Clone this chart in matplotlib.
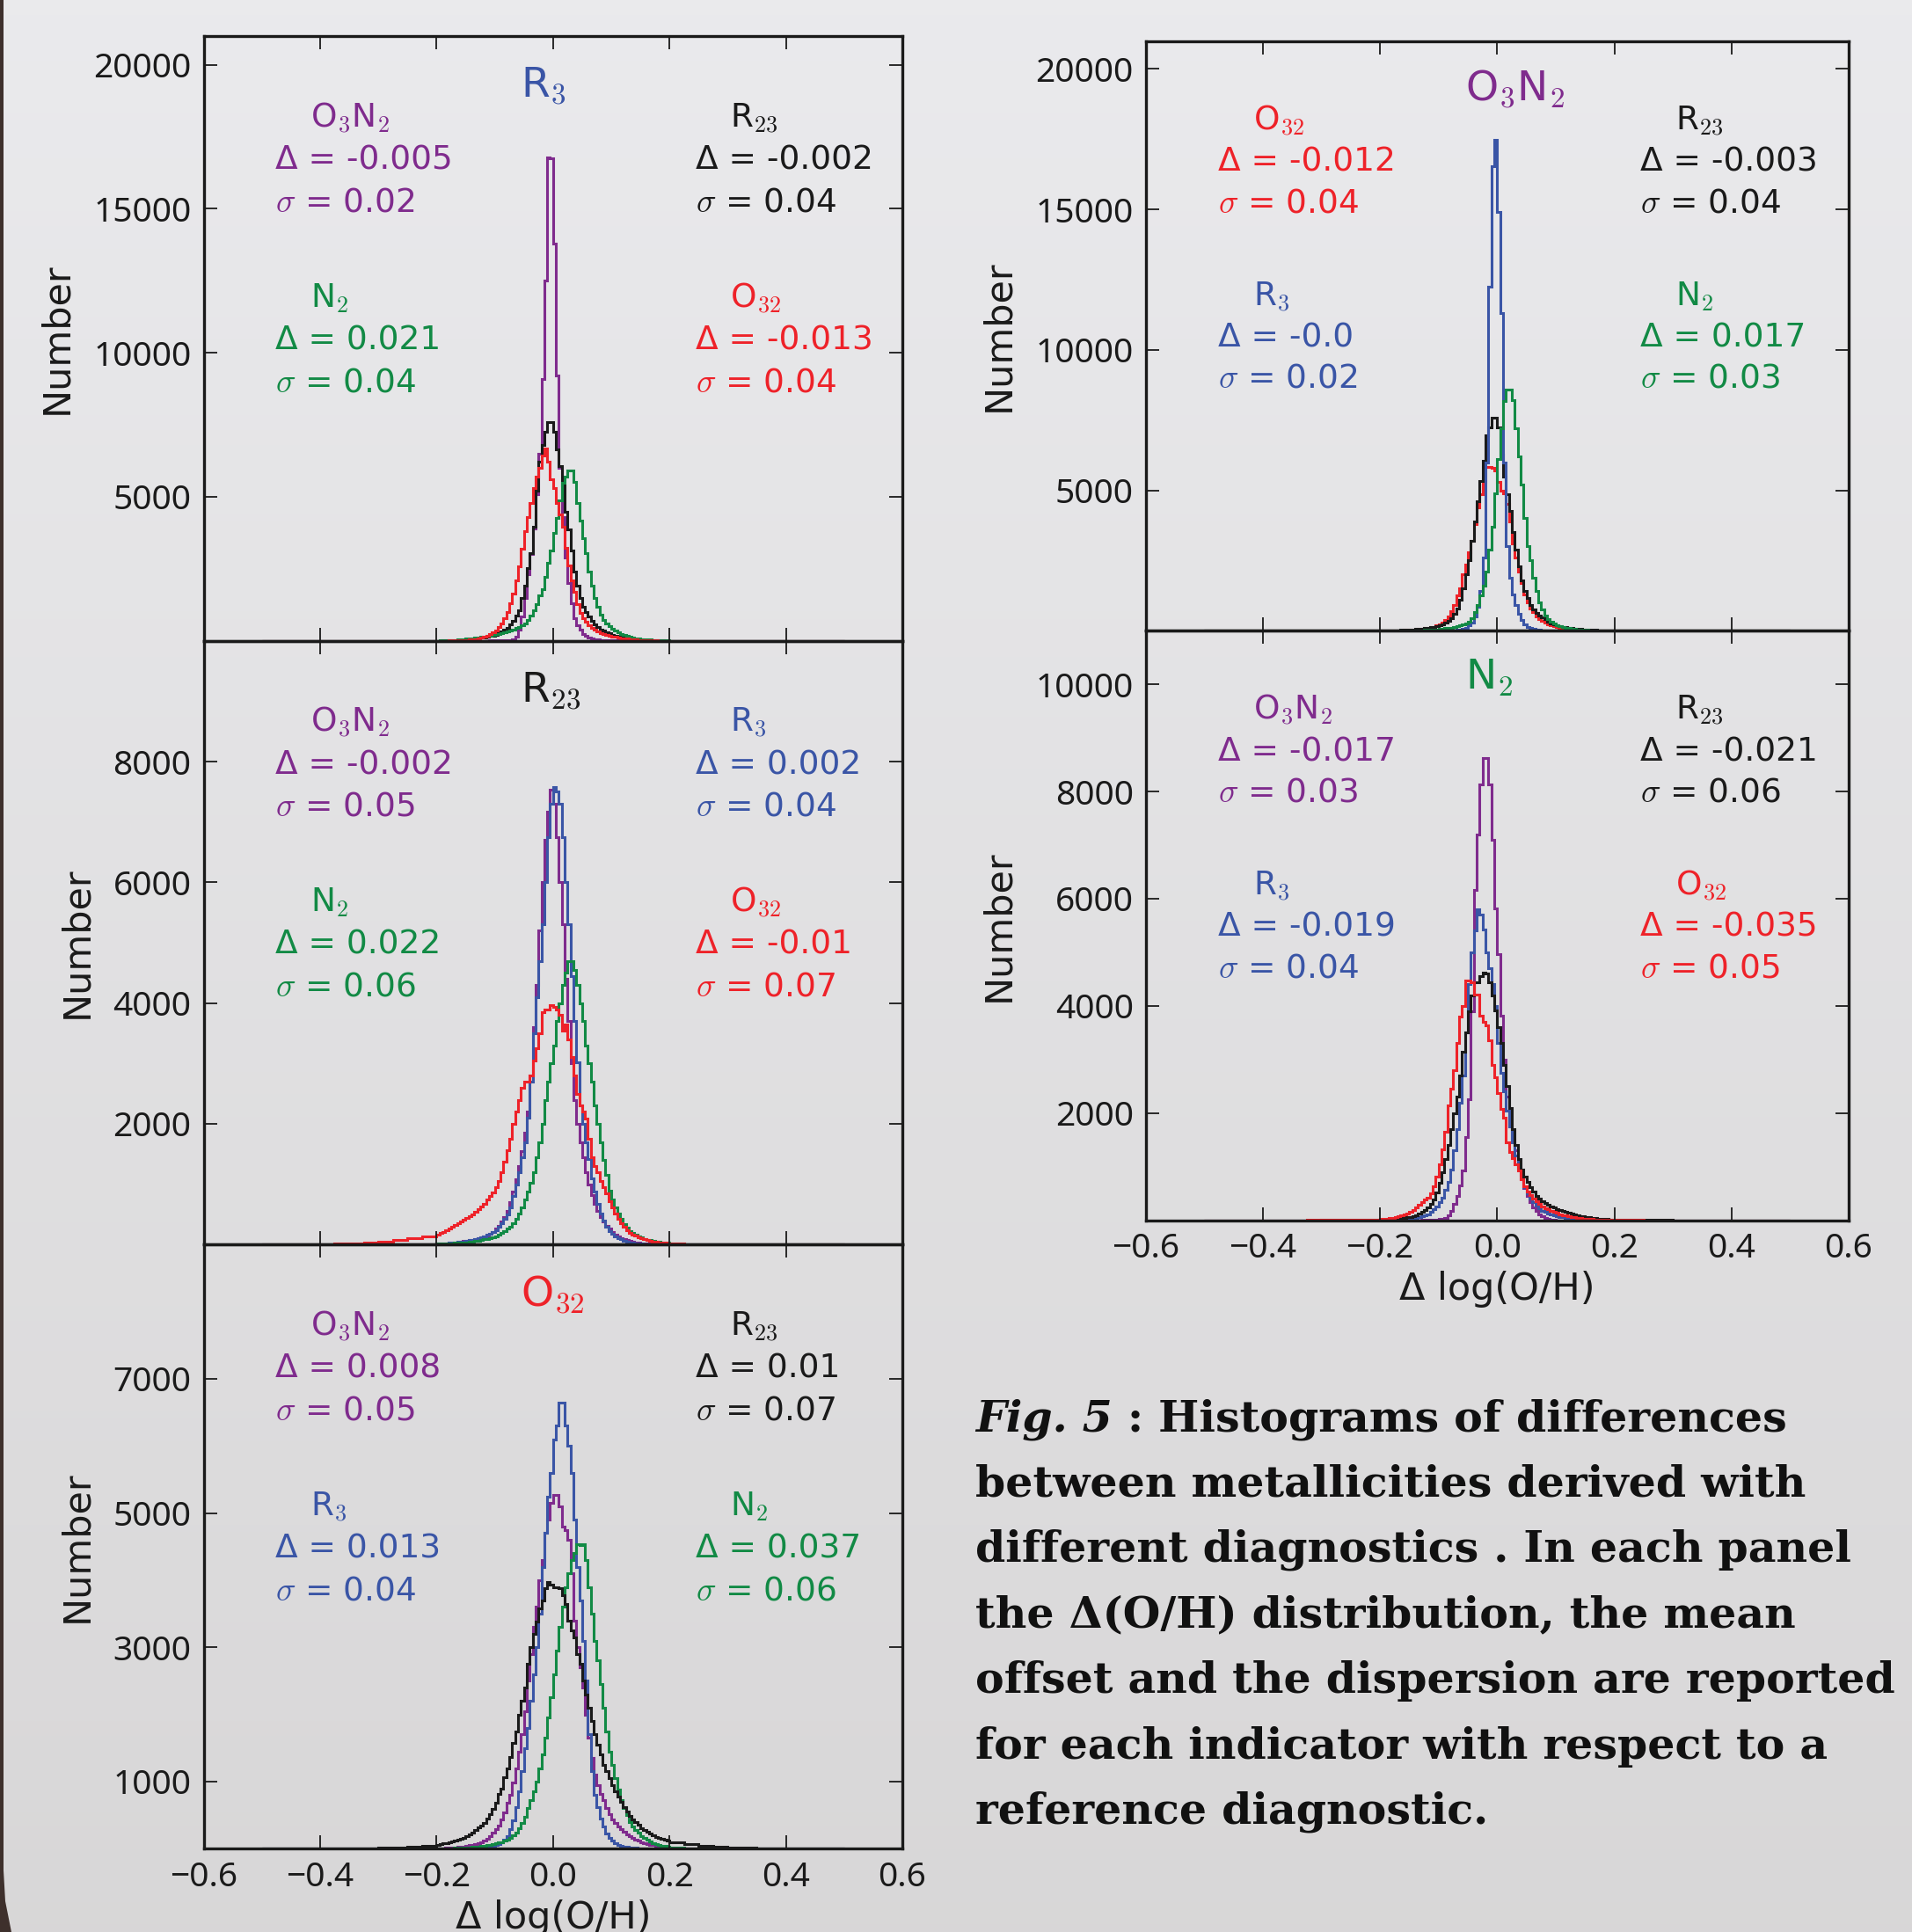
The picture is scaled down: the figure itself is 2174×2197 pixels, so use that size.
import numpy as np
import matplotlib
matplotlib.use("Agg")
import matplotlib.pyplot as plt
from matplotlib.patches import Polygon

plt.rcParams['mathtext.fontset'] = 'cm'
plt.rcParams['font.family'] = ['DejaVu Sans']

# ---------------------------------------------------------------- data
# histogram bin edges in Δ log(O/H): coarse outer bins, fine central bins
edges = np.concatenate([np.linspace(-0.5, -0.225, 12),
                        np.linspace(-0.2, 0.195, 80),
                        np.linspace(0.2, 0.5, 13)])
xticks = [-0.6, -0.4, -0.2, 0.0, 0.2, 0.4, 0.6]

# ---- panel: reference R3
r3_o3n2 = [0,0,0,0,0,0,0,0,0,0,0,0,
    0,0,0,0,0,0,0,1,1,1,
    2,2,3,3,4,5,5,6,8,10,
    10,12,15,20,25,35,60,150,380,850,
    1500,2300,3000,3900,5100,6500,9100,12500,16800,16750,
    13800,9200,6000,4300,2900,2000,1300,800,550,380,
    250,170,110,75,50,38,28,20,15,12,
    10,8,6,5,4,3,3,2,2,2,
    1,1,1,1,1,0,0,0,0,0,
    0,0,0,0,0,0,0,0,0,0,0,0]
r3_r23 = [0,0,0,0,0,0,0,0,0,1,2,3,
    5,6,8,10,12,15,19,24,29,34,
    40,50,60,70,85,100,120,140,160,185,
    210,260,320,380,450,560,700,865,1070,1485,
    1900,2520,3030,3960,5200,6230,6800,7270,7600,7600,
    7270,6650,6080,5400,4480,3860,3140,2410,1900,1490,
    1180,1000,860,700,560,480,400,350,300,260,
    200,170,150,130,110,95,80,65,55,45,
    38,32,26,20,16,12,10,8,6,5,
    3,2,1,0,0,0,0,0,0,0,0,0]
r3_n2 = [0,0,0,0,0,0,0,0,1,2,3,4,
    5,7,10,14,18,24,30,40,50,62,
    75,85,95,105,118,130,145,160,180,200,
    230,250,280,300,340,370,400,450,480,550,
    600,710,870,1070,1280,1590,1790,2210,2720,3140,
    3760,4270,4890,5500,5700,5920,5920,5510,4790,4170,
    3550,3030,2410,1900,1490,1180,920,720,600,500,
    420,350,300,250,200,170,140,115,95,80,
    65,55,45,38,30,25,20,16,13,10,
    6,3,1,0,0,0,0,0,0,0,0,0]
r3_o32 = [0,0,0,0,0,0,0,0,0,1,2,3,
    3,4,5,6,8,10,13,16,20,24,
    30,40,52,66,85,110,140,180,230,290,
    370,470,600,780,1000,1300,1650,2100,2600,3200,
    3800,4300,4800,5300,5700,6000,6440,6670,6230,5600,
    5300,4790,4400,3960,3240,2620,2100,1690,1280,970,
    800,660,540,450,380,320,270,230,195,170,
    150,130,110,95,80,68,56,46,38,30,
    25,20,16,13,10,8,6,5,4,3,
    2,1,0,0,0,0,0,0,0,0,0,0]

# ---- panel: reference R23
r23_o3n2 = [0,0,0,0,0,0,0,0,1,2,3,5,
    15,18,22,26,30,35,40,46,52,58,
    65,72,80,90,100,115,130,150,180,215,
    260,310,380,460,560,700,880,1080,1300,1550,
    1850,2200,2800,3600,4300,5200,6000,6700,7170,7540,
    7300,6750,6000,5300,4400,3700,3000,2400,2000,1700,
    1450,1200,1000,820,680,560,460,380,310,260,
    210,170,140,110,90,72,58,46,37,30,
    24,19,15,12,9,7,6,5,4,3,
    2,1,0,0,0,0,0,0,0,0,0,0]
r23_r3 = [0,0,0,0,0,0,0,0,1,2,3,5,
    15,18,22,26,30,35,40,45,50,55,
    60,70,80,95,110,125,140,160,180,205,
    240,290,350,420,500,620,800,1000,1200,1450,
    1700,2100,2700,3500,4100,4700,5300,6000,6750,7300,
    7580,7500,7300,6750,6000,5300,4440,3700,3020,2300,
    2000,1700,1420,1100,880,680,510,400,290,230,
    180,140,110,85,65,50,40,30,24,18,
    14,11,9,7,5,4,3,2,2,1,
    1,0,0,0,0,0,0,0,0,0,0,0]
r23_n2 = [0,0,0,0,0,0,0,0,1,2,4,8,
    12,14,17,20,23,26,29,32,35,38,
    40,45,52,60,68,76,85,95,108,122,
    140,160,190,225,260,300,350,430,520,620,
    740,880,1020,1200,1450,1700,2000,2400,2700,3000,
    3300,3700,4000,4300,4500,4700,4700,4550,4300,4000,
    3700,3300,3000,2700,2300,2000,1700,1400,1150,900,
    750,620,510,420,340,280,230,190,160,135,
    115,98,84,72,62,53,46,40,35,30,
    20,10,5,2,1,0,0,0,0,0,0,0]
r23_o32 = [0,1,3,5,8,12,20,30,45,70,100,140,
    170,190,210,235,260,290,320,350,380,410,
    440,470,500,540,580,630,680,740,800,870,
    950,1050,1200,1380,1560,1750,2000,2200,2400,2600,
    2700,2700,2800,3050,3250,3500,3850,3900,3900,3960,
    3930,3900,3800,3550,3650,3400,3100,2800,2500,2300,
    2200,2080,1750,1450,1300,1200,1050,950,850,720,
    620,520,420,350,290,240,200,170,145,125,
    105,90,75,64,55,47,40,34,29,25,
    15,8,4,2,1,0,0,0,0,0,0,0]

# ---- panel: reference O32
o32_o3n2 = [0,0,0,0,0,0,0,0,0,1,2,3,
    5,6,8,10,12,15,19,24,28,34,
    40,50,60,72,85,100,120,150,190,240,
    290,340,430,540,680,800,980,1200,1450,1700,
    2050,2500,2900,3300,3600,4000,4300,4700,4900,5150,
    5264,5264,5100,4800,4750,4600,4100,3400,3000,2700,
    2400,2000,1650,1350,1100,950,820,720,600,510,
    440,380,330,290,250,215,185,160,140,120,
    100,85,72,60,50,42,35,29,24,20,
    12,6,3,1,0,0,0,0,0,0,0,0]
o32_r3 = [0,0,0,0,0,0,0,0,0,0,0,0,
    0,0,1,1,1,2,2,3,3,4,
    5,6,8,10,12,15,20,25,32,40,
    50,70,95,130,190,290,420,620,850,1150,
    1500,1800,2200,2600,3000,3500,4200,4700,5250,5600,
    6100,6300,6650,6650,6300,6000,5600,4900,4200,3700,
    3100,2500,1700,1150,800,620,450,330,220,160,
    120,85,60,45,32,24,18,13,10,8,
    6,5,4,3,2,2,1,1,1,0,
    0,0,0,0,0,0,0,0,0,0,0,0]
o32_n2 = [0,0,0,0,0,0,0,0,0,1,2,3,
    4,5,6,7,8,9,10,12,14,16,
    18,21,25,29,34,39,45,52,59,67,
    76,88,100,120,140,165,200,240,300,380,
    480,600,720,850,1000,1200,1400,1650,1950,2250,
    2600,2950,3300,3600,3900,4100,4300,4400,4540,4520,
    4540,4300,3900,3500,3100,2800,2450,2100,1750,1450,
    1250,1050,880,720,600,500,400,330,280,240,
    190,160,130,105,85,70,58,48,40,32,
    18,8,4,2,1,0,0,0,0,0,0,0]
o32_r23 = [0,0,0,1,2,3,5,8,12,18,28,40,
    60,68,76,85,95,105,116,130,145,162,
    180,210,245,280,312,345,378,443,509,596,
    680,810,900,1070,1200,1370,1580,1750,2000,2200,
    2400,2750,3000,3200,3380,3580,3700,3880,3970,3930,
    3900,3890,3880,3780,3650,3400,3250,3150,2900,2750,
    2500,2300,2100,1900,1700,1550,1400,1250,1150,1050,
    950,860,780,700,620,550,490,440,390,350,
    310,280,250,220,195,175,160,145,130,115,
    90,65,45,30,20,12,8,5,3,2,1,0]

# ---- panel: reference O3N2
o3n2_o32 = [0,0,0,0,0,0,0,0,0,1,2,3,
    5,6,8,10,12,14,17,21,25,30,
    35,42,50,60,72,85,100,120,145,180,
    220,280,380,500,680,910,1270,1500,2000,2350,
    2800,3200,3800,4400,4850,5300,5820,5820,5800,5700,
    5300,5000,4900,4500,3900,3100,2600,2100,1700,1300,
    1000,800,650,520,420,340,280,230,190,160,
    135,115,95,80,68,56,46,38,31,25,
    20,16,13,10,8,6,5,4,3,2,
    1,0,0,0,0,0,0,0,0,0,0,0]
o3n2_r23 = [0,0,0,0,0,0,0,0,0,1,2,3,
    6,8,10,12,14,17,20,24,28,34,
    40,48,56,65,76,88,100,120,145,170,
    180,220,280,350,450,600,800,1100,1500,2000,
    2500,3200,3900,4600,5320,6040,6950,7230,7590,7590,
    7230,6280,5500,4850,4250,3500,2900,2300,1800,1400,
    1150,920,760,640,550,470,400,320,270,230,
    200,170,145,125,105,90,76,64,54,45,
    38,32,27,22,18,15,12,10,8,6,
    4,2,1,0,0,0,0,0,0,0,0,0]
o3n2_r3 = [0,0,0,0,0,0,0,0,0,0,0,0,
    0,0,0,0,0,0,0,0,0,0,
    0,0,1,1,1,2,2,3,3,4,
    5,6,8,10,15,20,30,45,70,110,
    180,300,500,850,1400,2600,6000,12240,16540,17490,
    14900,11300,6000,3000,1900,1300,900,600,380,220,
    130,90,60,45,30,20,15,10,8,6,
    5,4,3,2,2,1,1,1,0,0,
    0,0,0,0,0,0,0,0,0,0,
    0,0,0,0,0,0,0,0,0,0,0,0]
o3n2_n2 = [0,0,0,0,0,0,0,0,0,0,0,0,
    2,2,3,3,4,4,5,6,7,8,
    10,12,14,17,20,24,29,35,42,50,
    60,72,85,100,115,135,155,180,210,250,
    330,450,650,900,1250,1600,2100,2900,3700,4900,
    6100,7200,8190,8600,8600,8200,7200,6200,5200,4000,
    3000,2500,1900,1400,1000,750,550,420,320,250,
    200,160,130,105,85,70,57,46,37,30,
    24,19,15,12,9,7,5,4,3,2,
    1,0,0,0,0,0,0,0,0,0,0,0]

# ---- panel: reference N2
n2_o3n2 = [0,0,0,0,0,0,0,0,0,0,0,0,
    0,0,0,0,0,0,0,0,0,0,
    0,0,1,1,2,3,4,6,9,14,
    20,30,50,95,180,300,450,650,930,1560,
    2250,3900,6170,7200,8130,8620,8620,8130,7090,5820,
    4960,3810,3000,2300,1800,1500,1300,1050,850,600,
    450,330,240,170,110,70,40,20,10,5,
    0,0,0,0,0,0,0,0,0,0,
    0,0,0,0,0,0,0,0,0,0,
    0,0,0,0,0,0,0,0,0,0,0,0]
n2_r23 = [0,0,0,0,0,0,0,1,2,3,5,8,
    10,12,15,18,22,27,33,40,48,56,
    65,80,100,125,155,190,240,300,380,520,
    700,900,1150,1400,1700,2000,2300,2700,3150,3500,
    3900,4200,4440,4440,4550,4620,4600,4440,4200,3920,
    3600,3300,2900,2500,2100,1700,1400,1150,950,820,
    720,620,530,460,410,360,325,290,260,235,
    210,190,170,150,135,120,105,92,80,70,
    60,52,45,39,34,29,25,21,18,15,
    10,6,3,2,1,0,0,0,0,0,0,0]
n2_r3 = [0,0,0,0,0,0,0,0,0,0,0,0,
    2,3,4,5,6,8,10,13,16,20,
    25,32,42,55,70,90,115,150,200,260,
    330,420,560,720,950,1300,1700,2200,2700,3500,
    4400,5000,5400,5800,5710,5420,5000,4700,4400,4000,
    3300,2750,2400,2050,1750,1450,1200,980,780,620,
    500,400,330,270,220,180,150,125,105,88,
    74,62,52,43,36,30,25,21,17,14,
    11,9,7,6,5,4,3,2,2,1,
    0,0,0,0,0,0,0,0,0,0,0,0]
n2_o32 = [0,0,0,0,0,0,1,2,3,5,8,14,
    20,25,32,40,50,62,75,90,108,128,
    150,190,240,290,330,380,420,500,640,810,
    1040,1330,1650,2150,2450,2800,3300,3800,4000,4470,
    4470,4440,4210,4210,3810,3700,3640,3350,2890,2660,
    2370,2080,1910,1450,1280,1160,1040,930,760,640,
    530,470,410,350,300,260,230,210,180,160,
    135,115,100,85,72,62,54,46,40,34,
    29,25,21,18,15,13,11,9,7,6,
    4,2,1,0,0,0,0,0,0,0,0,0]

# text of the panels: (indicator, mean offset, dispersion, corner)
notes_r3 = [('O$_3$N$_2$', '-0.005', '0.02', 'TL'), ('R$_{23}$', '-0.002', '0.04', 'TR'),
            ('N$_2$', '0.021', '0.04', 'BL'), ('O$_{32}$', '-0.013', '0.04', 'BR')]
notes_r23 = [('O$_3$N$_2$', '-0.002', '0.05', 'TL'), ('R$_3$', '0.002', '0.04', 'TR'),
             ('N$_2$', '0.022', '0.06', 'BL'), ('O$_{32}$', '-0.01', '0.07', 'BR')]
notes_o32 = [('O$_3$N$_2$', '0.008', '0.05', 'TL'), ('R$_{23}$', '0.01', '0.07', 'TR'),
             ('R$_3$', '0.013', '0.04', 'BL'), ('N$_2$', '0.037', '0.06', 'BR')]
notes_o3n2 = [('O$_{32}$', '-0.012', '0.04', 'TL'), ('R$_{23}$', '-0.003', '0.04', 'TR'),
              ('R$_3$', '-0.0', '0.02', 'BL'), ('N$_2$', '0.017', '0.03', 'BR')]
notes_n2 = [('O$_3$N$_2$', '-0.017', '0.03', 'TL'), ('R$_{23}$', '-0.021', '0.06', 'TR'),
            ('R$_3$', '-0.019', '0.04', 'BL'), ('O$_{32}$', '-0.035', '0.05', 'BR')]

caption_lines = ["between metallicities derived with",
                 "different diagnostics . In each panel",
                 "the \u0394(O/H) distribution, the mean",
                 "offset and the dispersion are reported",
                 "for each indicator with respect to a",
                 "reference diagnostic."]

# ---------------------------------------------------------------- style
PURPLE = '#7f2b8d'
BLUE = '#3a55a6'
GREEN = '#128a45'
RED = '#ee2229'
BLACK = '#1a1a1a'
COL = {'O$_3$N$_2$': PURPLE, 'R$_3$': BLUE, 'R$_{23}$': BLACK,
       'N$_2$': GREEN, 'O$_{32}$': RED}

W, H = 2174, 2197
fig = plt.figure(figsize=(W / 100, H / 100), dpi=100)
fig.patch.set_facecolor('#dfdedf')

# background: soft vertical gradient
bg = fig.add_axes([0, 0, 1, 1], zorder=-10)
grad = np.linspace(0, 1, 256)[:, None]
top = np.array([0.918, 0.918, 0.928])
bot = np.array([0.848, 0.843, 0.846])
img = top[None, None, :] * (1 - grad[..., None]) + bot[None, None, :] * grad[..., None]
bg.imshow(np.repeat(img, 4, axis=1), aspect='auto', extent=[0, 1, 0, 1])
bg.set_xlim(0, 1); bg.set_ylim(0, 1)
bg.axis('off')
# dark frame edge on the left with rounded lower corner
bg.add_patch(Polygon([[0, 0], [0, 1], [4 / W, 1], [4 / W, 70 / H],
                      [6 / W, 35 / H], [13 / W, 0]], closed=True,
                     facecolor='#3e302c', edgecolor='none'))

CORNERS = {'TL': (0.153, 0.103, 0.849), 'TR': (0.753, 0.704, 0.849),
           'BL': (0.153, 0.103, 0.551), 'BR': (0.753, 0.704, 0.551)}
NOTE_FS = 27
LINE_STEP = 0.0695


def make_panel(rect, series, ylim, yticks, title, tcolor, notes, show_x):
    ax = fig.add_axes(rect)
    ax.set_facecolor('none')
    for vals, col in series:
        ax.stairs(vals, edges, color=col, linewidth=2.2)
    ax.set_xlim(-0.6, 0.6)
    ax.set_ylim(0, ylim)
    ax.set_xticks(xticks)
    ax.set_yticks(yticks)
    ax.tick_params(direction='in', top=True, right=True, length=11, width=1.3,
                   labelsize=28, pad=10, labelfontfamily='Noto Sans',
                   colors='#1a1a1a')
    ax.tick_params(axis='x', labelbottom=show_x)
    for sp in ax.spines.values():
        sp.set_linewidth(2.4)
        sp.set_color('#1a1a1a')
    ax.set_ylabel('Number', fontsize=31, labelpad=15, color='#1a1a1a')
    if show_x:
        ax.set_xlabel('\u0394 log(O/H)', fontsize=31, labelpad=4, color='#1a1a1a')
    ax.text(-0.055, 0.90, title, transform=ax.get_xaxis_transform(),
            color=tcolor, fontsize=34, ha='left', va='baseline')
    for name, d, s, corner in notes:
        xl, xv, yb = CORNERS[corner]
        c = COL[name]
        ax.text(xl, yb, name, transform=ax.transAxes, color=c,
                fontsize=NOTE_FS, va='baseline')
        ax.text(xv, yb - LINE_STEP, '\u0394 = ' + d, transform=ax.transAxes,
                color=c, fontsize=NOTE_FS, va='baseline')
        ax.text(xv, yb - 2 * LINE_STEP, r'$\sigma$ = ' + s, transform=ax.transAxes,
                color=c, fontsize=NOTE_FS, va='baseline')
    return ax


LX, LW = 231.5 / W, (1026 - 231.5) / W
RX, RW = 1302.6 / W, (2102 - 1302.6) / W

make_panel([LX, 1 - 728.7 / H, LW, (728.7 - 41) / H],
           [(r3_o3n2, PURPLE), (r3_r23, BLACK), (r3_n2, GREEN), (r3_o32, RED)],
           21000, [5000, 10000, 15000, 20000], 'R$_3$', BLUE, notes_r3, False)
make_panel([LX, 1 - 1415.3 / H, LW, (1415.3 - 728.7) / H],
           [(r23_o3n2, PURPLE), (r23_r3, BLUE), (r23_n2, GREEN), (r23_o32, RED)],
           10000, [2000, 4000, 6000, 8000], 'R$_{23}$', BLACK, notes_r23, False)
make_panel([LX, 1 - 2102.2 / H, LW, (2102.2 - 1415.3) / H],
           [(o32_o3n2, PURPLE), (o32_r3, BLUE), (o32_n2, GREEN), (o32_r23, BLACK)],
           9000, [1000, 3000, 5000, 7000], 'O$_{32}$', RED, notes_o32, True)
make_panel([RX, 1 - 717.2 / H, RW, (717.2 - 46.5) / H],
           [(o3n2_o32, RED), (o3n2_r23, BLACK), (o3n2_r3, BLUE), (o3n2_n2, GREEN)],
           21000, [5000, 10000, 15000, 20000], 'O$_3$N$_2$', PURPLE, notes_o3n2, False)
make_panel([RX, 1 - 1387.6 / H, RW, (1387.6 - 717.2) / H],
           [(n2_o3n2, PURPLE), (n2_r3, BLUE), (n2_r23, BLACK), (n2_o32, RED)],
           11000, [2000, 4000, 6000, 8000, 10000], 'N$_2$', GREEN, notes_n2, True)

# ---------------------------------------------------------------- caption
cap = dict(family='DejaVu Serif', weight='bold', fontsize=35.3, color='#111111')
cx = 1109 / W
base0 = 1627
step = 74.5
t0 = fig.text(cx, 1 - base0 / H, 'Fig. 5', style='italic', va='baseline', **cap)
renderer = fig.canvas.get_renderer()
bb = t0.get_window_extent(renderer=renderer)
fig.text(bb.x1 / W, 1 - base0 / H, ' : Histograms of differences', va='baseline', **cap)
for i, line in enumerate(caption_lines):
    fig.text(cx, 1 - (base0 + step * (i + 1)) / H, line, va='baseline', **cap)

fig.savefig('out.png', dpi=100, facecolor=fig.get_facecolor())
